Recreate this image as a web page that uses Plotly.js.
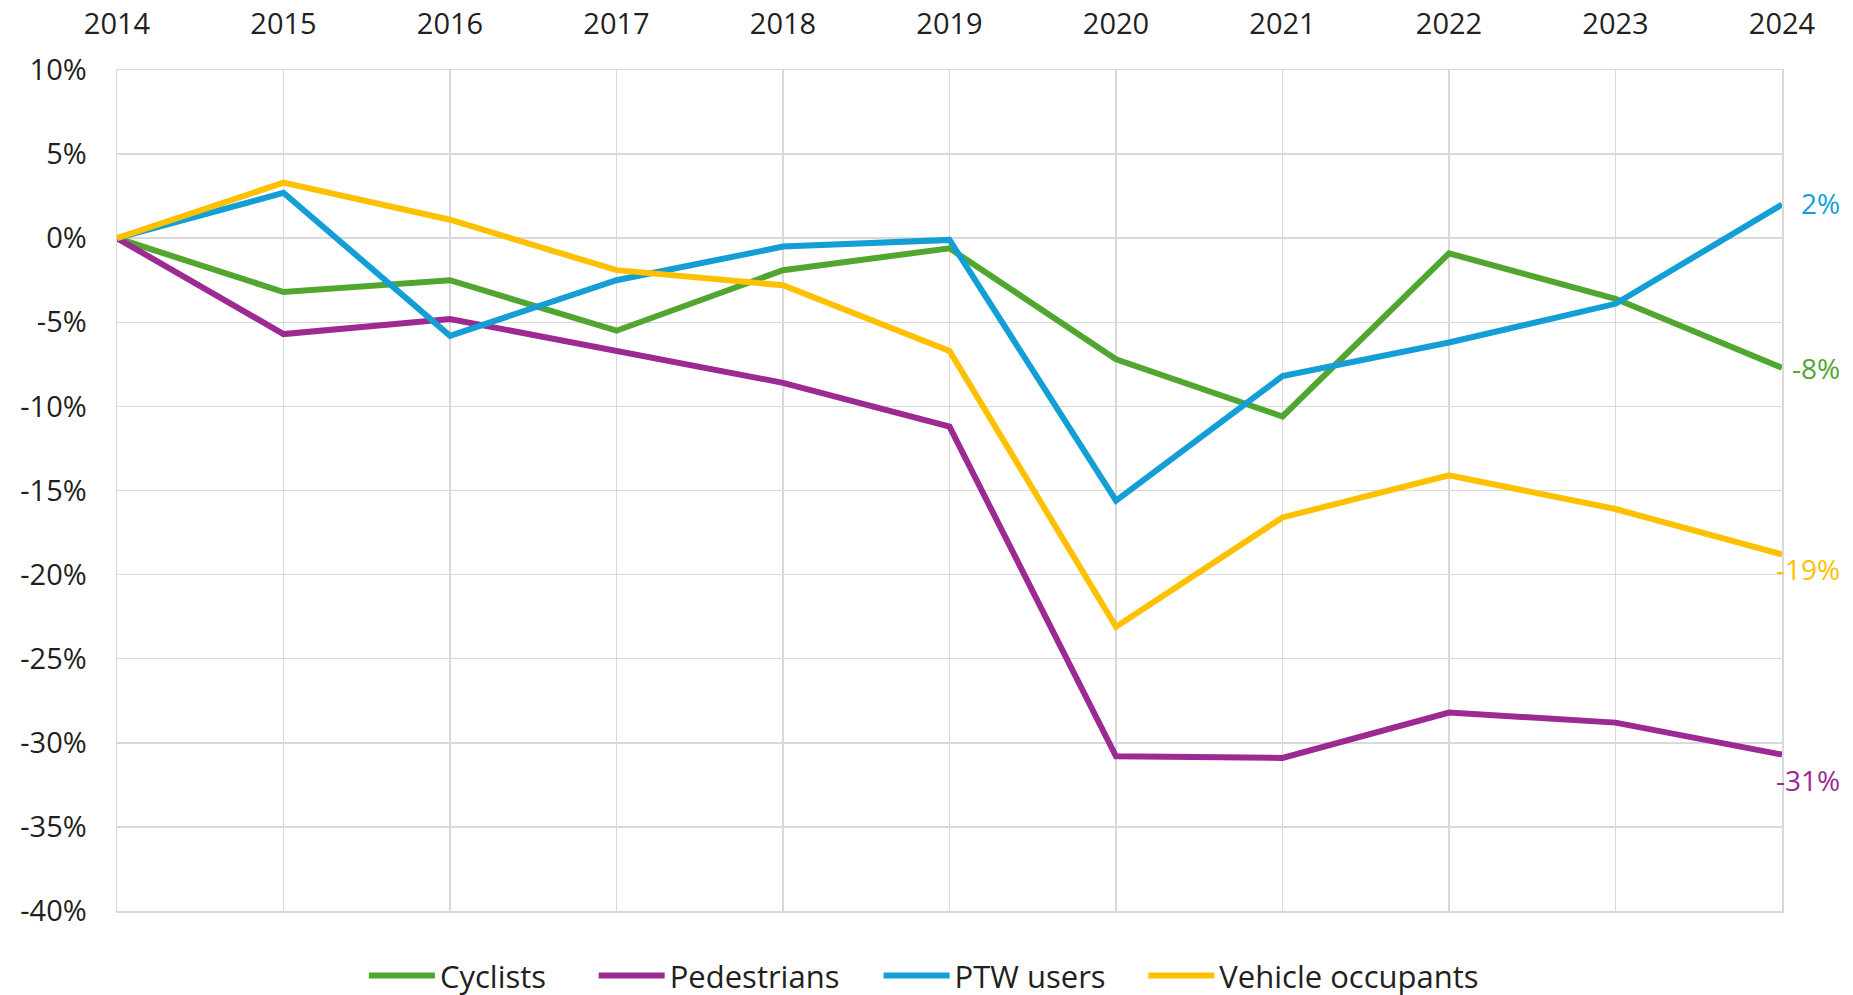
<!DOCTYPE html>
<html>
<head>
<meta charset="utf-8">
<script src="https://cdn.plot.ly/plotly-3.0.1.min.js"></script>
<style>
  html, body { margin: 0; padding: 0; background: #ffffff; }
  #chart { width: 1853px; height: 995px; }
</style>
</head>
<body>
<div id="chart"></div>
<script>
// ---- data (percentage change vs 2014) ----
const years = [2014, 2015, 2016, 2017, 2018, 2019, 2020, 2021, 2022, 2023, 2024];
const cyclists = [0, -3.2, -2.5, -5.5, -1.9, -0.6, -7.2, -10.6, -0.9, -3.6, -7.7];
const pedestrians = [0, -5.7, -4.8, -6.7, -8.6, -11.2, -30.8, -30.9, -28.2, -28.8, -30.7];
const ptwUsers = [0, 2.7, -5.8, -2.5, -0.5, -0.1, -15.6, -8.2, -6.2, -3.9, 2.0];
const vehicleOccupants = [0, 3.3, 1.1, -1.9, -2.8, -6.7, -23.1, -16.6, -14.1, -16.1, -18.8];
const seriesNames = ["Cyclists", "Pedestrians", "PTW users", "Vehicle occupants"];
const endLabels = ["-8%", "-31%", "2%", "-19%"];
const yTickVals = [10, 5, 0, -5, -10, -15, -20, -25, -30, -35, -40];
const yTickText = ["10%", "5%", "0%", "-5%", "-10%", "-15%", "-20%", "-25%", "-30%", "-35%", "-40%"];

// ---- styling ----
const colors = ["#51A630", "#9C2A92", "#139FD6", "#FFC000"];
const labelShiftY = [0, -25, 2, -15];
const legendIds = ["legend", "legend2", "legend3", "legend4"];
const legendX = [0.1483, 0.2863, 0.4574, 0.6164];
const FONT = "Open Sans, DejaVu Sans, sans-serif";
const seriesValues = [cyclists, pedestrians, ptwUsers, vehicleOccupants];

const traces = seriesValues.map((vals, i) => ({
  type: "scatter",
  mode: "lines",
  name: seriesNames[i],
  legend: legendIds[i],
  x: years,
  y: vals,
  line: { color: colors[i], width: 6 },
  hoverinfo: "x+y+name"
}));

const annotations = seriesValues.map((vals, i) => ({
  x: years[years.length - 1],
  y: vals[vals.length - 1],
  xref: "x",
  yref: "y",
  text: endLabels[i],
  showarrow: false,
  xanchor: "right",
  yanchor: "middle",
  xshift: 60,
  yshift: labelShiftY[i],
  font: { family: FONT, size: 28, color: colors[i] }
}));

const layout = {
  width: 1853,
  height: 995,
  paper_bgcolor: "#ffffff",
  plot_bgcolor: "#ffffff",
  margin: { l: 117, r: 71, t: 70, b: 84, autoexpand: false },
  font: { family: FONT, size: 28, color: "#231F20" },
  showlegend: true,
  xaxis: {
    side: "top",
    range: [2014, 2024],
    tickmode: "array",
    tickvals: years,
    ticktext: years.map(String),
    showgrid: true,
    gridcolor: "#D9D9D9",
    gridwidth: 1.5,
    zeroline: false,
    showline: true,
    linecolor: "#D9D9D9",
    linewidth: 1.5,
    mirror: true,
    ticks: "",
    ticklabelstandoff: 23,
    tickfont: { family: FONT, size: 29, color: "#231F20" },
    fixedrange: true
  },
  yaxis: {
    range: [-40, 10],
    tickmode: "array",
    tickvals: yTickVals,
    ticktext: yTickText,
    showgrid: true,
    gridcolor: "#D9D9D9",
    gridwidth: 1.5,
    zeroline: false,
    showline: true,
    linecolor: "#D9D9D9",
    linewidth: 1.5,
    mirror: true,
    ticks: "",
    ticklabelstandoff: 23,
    tickfont: { family: FONT, size: 29, color: "#231F20" },
    fixedrange: true
  },
  annotations: annotations
};

legendIds.forEach((id, i) => {
  layout[id] = {
    orientation: "h",
    x: legendX[i],
    xanchor: "left",
    y: -0.077,
    yanchor: "middle",
    font: { family: FONT, size: 31, color: "#231F20" },
    itemwidth: 66,
    bgcolor: "rgba(0,0,0,0)"
  };
});

Plotly.newPlot("chart", traces, layout, { displayModeBar: false, staticPlot: true });
</script>
</body>
</html>
